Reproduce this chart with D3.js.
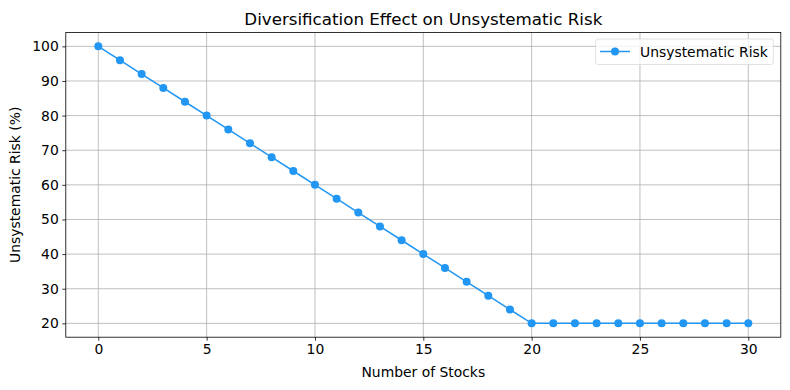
<!DOCTYPE html>
<html><head><meta charset="utf-8">
<script src="https://cdn.jsdelivr.net/npm/d3@7"></script>
<style>body{margin:0;background:#fff}svg{display:block}text{font-family:"DejaVu Sans",sans-serif;fill:#000}</style>
</head><body><svg id="c" width="790" height="390"></svg>
<script>
const stocks = [0,1,2,3,4,5,6,7,8,9,10,11,12,13,14,15,16,17,18,19,20,21,22,23,24,25,26,27,28,29,30];
const risk = [100,96,92,88,84,80,76,72,68,64,60,56,52,48,44,40,36,32,28,24,20,20,20,20,20,20,20,20,20,20,20];
const xTicks = [0,5,10,15,20,25,30];
const yTicks = [20,30,40,50,60,70,80,90,100];
const color = "#2196F3";

const svg = d3.select("#c");
const L=65.8, R=780.8, T=32.5, B=337.2;
const x = d3.scaleLinear().domain([-1.5,31.5]).range([L,R]);
const y = d3.scaleLinear().domain([16,104]).range([B,T]);

const g = svg.append("g");
// grid
g.selectAll(".vx").data(xTicks).join("line").attr("x1",d=>x(d)).attr("x2",d=>x(d)).attr("y1",T).attr("y2",B).attr("stroke","#b0b0b0").attr("stroke-width",0.8);
g.selectAll(".hy").data(yTicks).join("line").attr("y1",d=>y(d)).attr("y2",d=>y(d)).attr("x1",L).attr("x2",R).attr("stroke","#b0b0b0").attr("stroke-width",0.8);

const xa = svg.append("g").attr("transform",`translate(0,${B})`).call(d3.axisBottom(x).tickValues(xTicks).tickSize(3.5).tickPadding(3.5).tickSizeOuter(0));
const ya = svg.append("g").attr("transform",`translate(${L},0)`).call(d3.axisLeft(y).tickValues(yTicks).tickSize(3.5).tickPadding(3.5).tickSizeOuter(0));
[xa,ya].forEach(a=>{a.select(".domain").remove();a.selectAll("text").style("font-size","13.9px").style("font-family","DejaVu Sans").attr("fill","#000");a.selectAll("line").attr("stroke","#000").attr("stroke-width",0.8);});

const line = d3.line().x((d,i)=>x(stocks[i])).y(d=>y(d));
svg.append("path").datum(risk).attr("d",line).attr("fill","none").attr("stroke",color).attr("stroke-width",1.5);
svg.selectAll(".pt").data(risk).join("circle").attr("cx",(d,i)=>x(stocks[i])).attr("cy",d=>y(d)).attr("r",4).attr("fill",color);

svg.append("rect").attr("x",L).attr("y",T).attr("width",R-L).attr("height",B-T).attr("fill","none").attr("stroke","#000").attr("stroke-width",0.8);

svg.append("text").attr("x",(L+R)/2).attr("y",T-8).attr("text-anchor","middle").style("font-size","16.7px").text("Diversification Effect on Unsystematic Risk");
svg.append("text").attr("x",(L+R)/2).attr("y",377).attr("text-anchor","middle").style("font-size","13.9px").text("Number of Stocks");
svg.append("text").attr("transform",`translate(20,${(T+B)/2}) rotate(-90)`).attr("text-anchor","middle").style("font-size","13.9px").text("Unsystematic Risk (%)");

// legend
const lg = svg.append("g");
lg.append("rect").attr("x",595.7).attr("y",39).attr("width",177.6).attr("height",25.5).attr("rx",2.5).attr("fill","#fff").attr("fill-opacity",0.8).attr("stroke","#d9d9d9").attr("stroke-width",0.8);
lg.append("line").attr("x1",600).attr("x2",630).attr("y1",51.5).attr("y2",51.5).attr("stroke",color).attr("stroke-width",1.5);
lg.append("circle").attr("cx",615).attr("cy",51.5).attr("r",4).attr("fill",color);
lg.append("text").attr("x",640).attr("y",56.5).style("font-size","13.9px").text("Unsystematic Risk");
</script></body></html>
